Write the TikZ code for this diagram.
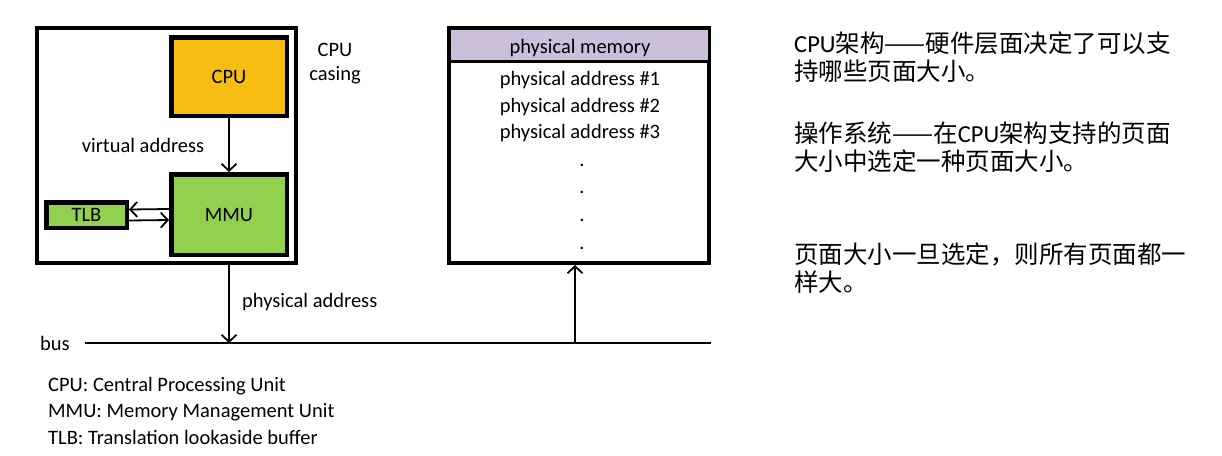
\documentclass[tikz,border=0pt]{standalone}
\usepackage{fontspec}
\setmainfont{Carlito}
\newfontfamily\cjk{Noto Sans CJK SC}
\usetikzlibrary{arrows.meta}
\definecolor{cpuorange}{HTML}{F7BD12}
\definecolor{mmugreen}{HTML}{92D050}
\definecolor{hdrpurple}{HTML}{CBBFDA}
\begin{document}
\begin{tikzpicture}[x=1pt,y=-1pt,
  frame/.style={draw, line width=4pt, inner sep=0pt},
  unit/.style={draw, line width=4.5pt, inner sep=0pt, font=\fontsize{20.5}{24}\selectfont},
  arr/.style={line width=1.8pt, -{Straight Barb[length=7pt,width=15pt]}},
  lbl/.style={inner sep=0pt, font=\fontsize{20.5}{24}\selectfont},
  cjktext/.style={inner sep=0pt, anchor=base west, font=\cjk\fontsize{24.5}{28}\selectfont}
]
\useasboundingbox (0,0) rectangle (1222,455);

% CPU casing and units
\node[frame, minimum width=259pt, minimum height=235pt] (casing) at (166.5,145.5) {};
\node[unit, fill=cpuorange, minimum width=115.5pt, minimum height=78.5pt] (cpu) at (229,76.5) {CPU};
\node[unit, fill=mmugreen, minimum width=115.5pt, minimum height=80.5pt] (mmu) at (229,214.5) {MMU};
\node[unit, fill=mmugreen, minimum width=80.5pt, minimum height=25.5pt] (tlb) at (86.5,215) {TLB};

\node[lbl, align=center] (casinglbl) at (335,64) {CPU\\casing};
\node[lbl, anchor=base] (valbl) at (143,152) {virtual address};

\draw[arr] (cpu.south) -- (mmu.north);
\draw[arr] ([yshift=5.5pt]mmu.west) -- ([yshift=5.5pt]tlb.east);
\draw[arr] ([yshift=-5.5pt]tlb.east) -- ([yshift=-5.5pt]mmu.west);

% physical memory
\node[frame, minimum width=260pt, minimum height=235pt] (mem) at (579,145.5) {};
\node[frame, line width=3.5pt, fill=hdrpurple, minimum width=260.5pt, minimum height=33.5pt] (hdr) at (579,44.5) {};
\node[lbl, anchor=base] (hdrlbl) at (580,53) {physical memory};
\node[lbl, anchor=base] (pa1) at (580,85) {physical address \#1};
\node[lbl, anchor=base] (pa2) at (580,112) {physical address \#2};
\node[lbl, anchor=base] (pa3) at (580,138) {physical address \#3};
\node[lbl, anchor=base] (d1) at (582,166) {.};
\node[lbl, anchor=base] (d2) at (582,193) {.};
\node[lbl, anchor=base] (d3) at (582,221) {.};
\node[lbl, anchor=base] (d4) at (582,249) {.};

% bus
\coordinate (busL) at (85,343);
\coordinate (busR) at (711,343);
\coordinate (b1) at (229,343);
\coordinate (b2) at (575,343);
\draw[line width=1.8pt] (busL) -- (busR);
\node[lbl, anchor=base west] (buslbl) at (40,350) {bus};
\draw[arr] (casing.south -| cpu.south) -- (b1);
\node[lbl, anchor=base west] (palbl) at (242,307) {physical address};
\draw[arr] (b2) -- (mem.south -| b2);

% legend
\node[lbl, anchor=base west] (leg1) at (48,391) {CPU: Central Processing Unit};
\node[lbl, anchor=base west] (leg2) at (48,417) {MMU: Memory Management Unit};
\node[lbl, anchor=base west] (leg3) at (48,444) {TLB: Translation lookaside buffer};

% Chinese notes
\node[cjktext] (n1) at (794,52) {{\rmfamily CPU}架构——硬件层面决定了可以支};
\node[cjktext] (n2) at (794,80) {持哪些页面大小。};
\node[cjktext] (n3) at (794,142) {操作系统——在{\rmfamily CPU}架构支持的页面};
\node[cjktext] (n4) at (794,170) {大小中选定一种页面大小。};
\node[cjktext] (n5) at (794,263) {页面大小一旦选定，则所有页面都一};
\node[cjktext] (n6) at (794,291) {样大。};
\end{tikzpicture}
\end{document}
